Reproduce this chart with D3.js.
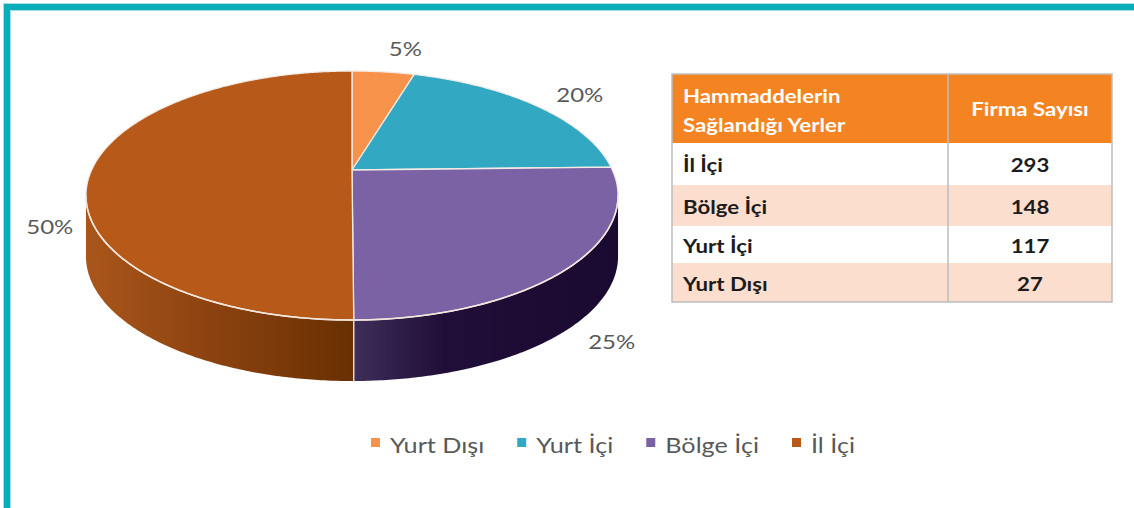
<!DOCTYPE html>
<html>
<head>
<meta charset="utf-8">
<script src="https://cdn.jsdelivr.net/npm/d3@7"></script>
<style>
  body { margin: 0; background: #fff; }
  svg { display: block; }
  text { font-family: Lato, "Open Sans", sans-serif; }
</style>
</head>
<body>
<div class="container"></div>
<script>
// Data
const categories = ['Yurt Dışı', 'Yurt İçi', 'Bölge İçi', 'İl İçi'];
const firmCounts = [27, 117, 148, 293];
const percentLabels = ['5%', '20%', '25%', '50%'];
const sliceColors = ['#F6924A', '#33A8C3', '#7A62A4', '#B75A19'];

const tableHeader = ['Hammaddelerin\nSağlandığı Yerler', 'Firma Sayısı'];
const tablePlaces = ['İl İçi', 'Bölge İçi', 'Yurt İçi', 'Yurt Dışı'];
const tableCounts = [293, 148, 117, 27];

const width = 1134;
const height = 508;
const stretch = 1.2; // the source picture is a bit wide, text included

const svg = d3.select('.container')
    .append('svg')
    .attr('width', width)
    .attr('height', height);

function putText(parent, x, y, sx) {
    return parent.append('text')
        .attr('transform', `translate(${x},${y}) scale(${sx},1)`);
}

// teal frame, top and left
svg.append('rect').attr('x', 3).attr('y', 3).attr('width', width).attr('height', 8).attr('fill', '#A9DEE4');
svg.append('rect').attr('x', 3).attr('y', 3).attr('width', 8).attr('height', height).attr('fill', '#A9DEE4');
svg.append('rect').attr('x', 4).attr('y', 4).attr('width', width).attr('height', 6).attr('fill', '#08ADBA');
svg.append('rect').attr('x', 4).attr('y', 4).attr('width', 6).attr('height', height).attr('fill', '#08ADBA');

// perspective pie (tilted disc seen from the front)
const cx = 352, cy = 170;
const ax = 260.4, by = 119.3, persp = 0.2048;
const depth = 61;

// theta: clockwise from 12 o'clock
function project(theta, r = 1) {
    const x = r * Math.sin(theta);
    const y = r * Math.cos(theta);
    const w = 1 + persp * y;
    return [cx + ax * x / w, cy - by * y / w];
}

function arcPoints(a0, a1, dy = 0) {
    const n = Math.max(2, Math.ceil((a1 - a0) / 0.01));
    return d3.range(n + 1).map(i => {
        const p = project(a0 + (a1 - a0) * i / n);
        return [p[0], p[1] + dy];
    });
}

const pie = d3.pie().sort(null).value(d => d);
const arcs = pie(firmCounts);
const line = d3.line();

const sideFrom = Math.acos(-persp);
const sideTo = 2 * Math.PI - sideFrom;

const defs = svg.append('defs');
const sideGrads = [
    null, null,
    { x1: cx, x2: cx + 266, stops: [[0, '#3E2E59'], [0.35, '#200E38'], [1, '#1A0930']] },
    { x1: cx - 266, x2: cx, stops: [[0, '#A9561B'], [0.5, '#8A410F'], [1, '#693002']] }
];
sideGrads.forEach((g, i) => {
    if (!g) return;
    const lg = defs.append('linearGradient')
        .attr('id', 'side' + i)
        .attr('gradientUnits', 'userSpaceOnUse')
        .attr('x1', g.x1).attr('x2', g.x2).attr('y1', 0).attr('y2', 0);
    g.stops.forEach(s => lg.append('stop').attr('offset', s[0]).attr('stop-color', s[1]));
});

const pieG = svg.append('g');

// sides
arcs.forEach((a, i) => {
    const s0 = Math.max(a.startAngle, sideFrom);
    const s1 = Math.min(a.endAngle, sideTo);
    if (s0 >= s1) return;
    const pts = arcPoints(s0, s1).concat(arcPoints(s0, s1, depth).reverse());
    pieG.append('path')
        .attr('d', line(pts) + 'Z')
        .attr('fill', sideGrads[i] ? `url(#side${i})` : d3.color(sliceColors[i]).darker(1.5));
});

// seam on the side between slices
arcs.forEach(a => {
    if (a.startAngle > sideFrom && a.startAngle < sideTo) {
        const p = project(a.startAngle);
        pieG.append('line')
            .attr('x1', p[0]).attr('y1', p[1])
            .attr('x2', p[0]).attr('y2', p[1] + depth)
            .attr('stroke', '#EDE3DA').attr('stroke-width', 1.4);
    }
});

// top faces
arcs.forEach((a, i) => {
    const pts = [[cx, cy]].concat(arcPoints(a.startAngle, a.endAngle));
    pieG.append('path')
        .attr('d', line(pts) + 'Z')
        .attr('fill', sliceColors[i])
        .attr('stroke', '#F3ECE6')
        .attr('stroke-width', 1.3)
        .attr('stroke-linejoin', 'round');
});

// front rim highlight
pieG.append('path')
    .attr('d', line(arcPoints(sideFrom, sideTo)))
    .attr('fill', 'none')
    .attr('stroke', '#F1E6DC')
    .attr('stroke-width', 1.6);

// percentage labels, outside end; back slices sit a little further right
arcs.forEach((a, i) => {
    const mid = (a.startAngle + a.endAngle) / 2;
    const p = project(mid, 1.16);
    const c = Math.cos(mid);
    const front = mid >= Math.PI / 2 - 0.01 && mid <= 3 * Math.PI / 2 + 0.01;
    putText(svg,
            p[0] + (c > 0.01 ? 18 : 0),
            p[1] - 11 * Math.pow(Math.max(0, c), 3) + (front ? depth * 0.92 : 0),
            stretch)
        .attr('text-anchor', 'middle')
        .attr('dominant-baseline', 'central')
        .attr('fill', '#595959')
        .attr('font-size', 20)
        .text(percentLabels[i]);
});

// legend
const legend = svg.append('g');
let lx = 0;
categories.forEach((c, i) => {
    const item = legend.append('g').attr('transform', `translate(${lx},0)`);
    item.append('rect').attr('x', 0).attr('y', -15).attr('width', 9).attr('height', 9).attr('fill', sliceColors[i]);
    const t = putText(item, 19, 0, stretch)
        .attr('fill', '#595959')
        .attr('font-size', 21)
        .text(c);
    lx += 19 + t.node().getComputedTextLength() * stretch + 33;
});
const legendW = lx - 33;
legend.attr('transform', `translate(${613 - legendW / 2},453)`);

// table
const colEdge = [672, 948, 1112];
const rowEdges = [74, 143, 185, 226, 263, 302];
const tStretch = 1.17;
const table = svg.append('g');

table.append('rect')
    .attr('x', colEdge[0]).attr('y', rowEdges[0])
    .attr('width', colEdge[2] - colEdge[0]).attr('height', rowEdges[1] - rowEdges[0])
    .attr('fill', '#F48421');

tablePlaces.forEach((p, i) => {
    const y0 = rowEdges[i + 1], y1 = rowEdges[i + 2];
    table.append('rect')
        .attr('x', colEdge[0]).attr('y', y0)
        .attr('width', colEdge[2] - colEdge[0]).attr('height', y1 - y0)
        .attr('fill', i % 2 ? '#FCDECE' : '#FFFFFF');
    putText(table, colEdge[0] + 11, (y0 + y1) / 2 + 1, tStretch)
        .attr('dominant-baseline', 'central')
        .attr('font-size', 19).attr('font-weight', 700).attr('fill', '#1C1C1C')
        .text(p);
    putText(table, (colEdge[1] + colEdge[2]) / 2, (y0 + y1) / 2 + 1, tStretch)
        .attr('text-anchor', 'middle')
        .attr('dominant-baseline', 'central')
        .attr('font-size', 19).attr('font-weight', 700).attr('fill', '#1C1C1C')
        .text(tableCounts[i]);
});

const headLines = tableHeader[0].split('\n');
headLines.forEach((h, j) => {
    putText(table, colEdge[0] + 11, 96 + j * 29, tStretch)
        .attr('dominant-baseline', 'central')
        .attr('font-size', 19).attr('font-weight', 700).attr('fill', '#fff')
        .text(h);
});
putText(table, (colEdge[1] + colEdge[2]) / 2, 109, tStretch)
    .attr('text-anchor', 'middle')
    .attr('dominant-baseline', 'central')
    .attr('font-size', 19).attr('font-weight', 700).attr('fill', '#fff')
    .text(tableHeader[1]);

// table borders
table.append('rect')
    .attr('x', colEdge[0]).attr('y', rowEdges[0])
    .attr('width', colEdge[2] - colEdge[0]).attr('height', rowEdges[5] - rowEdges[0])
    .attr('fill', 'none').attr('stroke', '#BDBDBD').attr('stroke-width', 1.5);
table.append('line')
    .attr('x1', colEdge[1]).attr('x2', colEdge[1])
    .attr('y1', rowEdges[0]).attr('y2', rowEdges[5])
    .attr('stroke', '#BDBDBD').attr('stroke-width', 1.5);
</script>
</body>
</html>
